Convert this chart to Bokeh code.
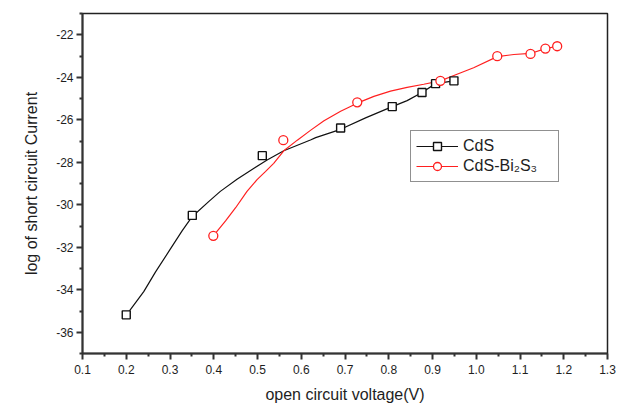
from bokeh.plotting import figure
from bokeh.models import (FixedTicker, Legend, LegendItem, Range1d)
from bokeh.embed import file_html
from bokeh.resources import INLINE

# Measured points
cds_voc = [0.20, 0.351, 0.511, 0.69, 0.808, 0.876, 0.907, 0.949]
cds_logi = [-35.18, -30.5, -27.69, -26.39, -25.38, -24.72, -24.30, -24.17]

bis_voc = [0.399, 0.559, 0.728, 0.918, 1.048, 1.124, 1.158, 1.185]
bis_logi = [-31.46, -26.96, -25.18, -24.17, -23.01, -22.90, -22.65, -22.54]

# Smooth fitted curves
cds_fit_x = [0.2006, 0.240, 0.267, 0.301, 0.328, 0.351, 0.389, 0.415, 0.454,
             0.492, 0.522, 0.560, 0.621, 0.633, 0.69, 0.747, 0.808, 0.842,
             0.876, 0.907, 0.949]
cds_fit_y = [-35.18, -34.09, -33.16, -32.08, -31.22, -30.55, -29.84, -29.37,
             -28.79, -28.28, -27.89, -27.46, -26.95, -26.84, -26.45, -25.91,
             -25.38, -25.10, -24.72, -24.30, -24.17]

bis_fit_x = [0.399, 0.427, 0.450, 0.476, 0.499, 0.518, 0.537, 0.560, 0.591,
             0.621, 0.652, 0.69, 0.728, 0.766, 0.804, 0.842, 0.880, 0.918,
             0.956, 0.994, 1.048, 1.086, 1.124, 1.158, 1.185]
bis_fit_y = [-31.46, -30.76, -30.14, -29.37, -28.82, -28.44, -28.05, -27.46,
             -26.96, -26.50, -26.05, -25.60, -25.22, -24.90, -24.65, -24.48,
             -24.33, -24.17, -23.86, -23.55, -23.03, -22.93, -22.88, -22.65,
             -22.54]

x_ticks = [0.1, 0.2, 0.3, 0.4, 0.5, 0.6, 0.7, 0.8, 0.9, 1.0, 1.1, 1.2, 1.3]
x_tick_labels = ["0.1", "0.2", "0.3", "0.4", "0.5", "0.6", "0.7", "0.8",
                 "0.9", "1.0", "1.1", "1.2", "1.3"]
y_ticks = [-36, -34, -32, -30, -28, -26, -24, -22]
y_tick_labels = ["-36", "-34", "-32", "-30", "-28", "-26", "-24", "-22"]

FONT = "Liberation Sans"
TXT = "#1e1e1e"

p = figure(width=620, height=405, output_backend="svg", toolbar_location=None,
           x_range=Range1d(0.1, 1.3), y_range=Range1d(-37, -21),
           min_border_left=82, min_border_right=13, min_border_top=13,
           min_border_bottom=51)
p.background_fill_color = "white"
p.border_fill_color = "white"
p.grid.visible = False
p.outline_line_color = "#222222"
p.outline_line_width = 1.5

x_minor = [round(t + 0.05, 3) for t in x_ticks[:-1]]
y_minor = [t + 1 for t in y_ticks] + [-37]
p.xaxis.ticker = FixedTicker(ticks=x_ticks, minor_ticks=x_minor)
p.yaxis.ticker = FixedTicker(ticks=y_ticks, minor_ticks=y_minor)
p.xaxis.major_label_overrides = dict(zip(x_ticks, x_tick_labels))
p.yaxis.major_label_overrides = dict(zip(y_ticks, y_tick_labels))

for ax in (p.xaxis, p.yaxis):
    ax.axis_line_color = "#333333"
    ax.axis_line_width = 2
    ax.major_tick_line_color = "#333333"
    ax.minor_tick_line_color = "#333333"
    ax.major_tick_line_width = 2
    ax.minor_tick_line_width = 2
    ax.major_tick_out = 6
    ax.major_tick_in = 0
    ax.minor_tick_out = 3
    ax.minor_tick_in = 0
    ax.major_label_text_font = FONT
    ax.major_label_text_font_size = "12px"
    ax.major_label_text_color = TXT
    ax.axis_label_text_font = FONT
    ax.axis_label_text_font_size = "16px"
    ax.axis_label_text_font_style = "normal"
    ax.axis_label_text_color = TXT

p.xaxis.axis_label = "open circuit voltage(V)"
p.yaxis.axis_label = "log of short circuit Current"
p.xaxis.major_label_standoff = 5
p.yaxis.major_label_standoff = 3
p.xaxis.axis_label_standoff = 9
p.yaxis.axis_label_standoff = 13

# Fitted curves
l1 = p.line(cds_fit_x, cds_fit_y, line_color="#111111", line_width=1.2)
l2 = p.line(bis_fit_x, bis_fit_y, line_color="#ff2020", line_width=1.2)

# Data markers
s1 = p.scatter(cds_voc, cds_logi, marker="square", size=8, line_color="#111111",
               line_width=1.4, fill_color="white")
s2 = p.scatter(bis_voc, bis_logi, marker="circle", size=9, line_color="#ff2020",
               line_width=1.3, fill_color="white")

legend = Legend(items=[LegendItem(label="CdS", renderers=[l1, s1]),
                       LegendItem(label="CdS-Bi₂S₃", renderers=[l2, s2])],
                location=(328, 171), padding=5, spacing=0, margin=0,
                glyph_width=42, glyph_height=20, label_height=20,
                label_width=90, label_standoff=5,
                label_text_font=FONT, label_text_font_size="16px",
                label_text_color=TXT,
                border_line_color="#222222", border_line_width=1.5,
                background_fill_alpha=1.0)
p.add_layout(legend, "center")

open("out.html", "w").write(file_html(p, INLINE))
